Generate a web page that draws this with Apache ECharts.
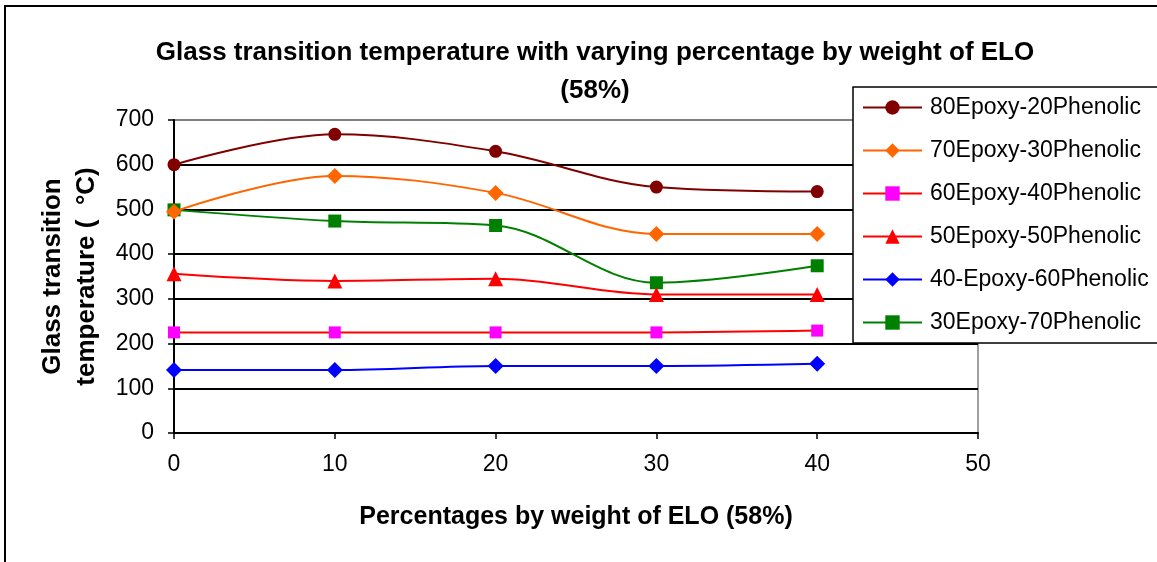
<!DOCTYPE html>
<html><head><meta charset="utf-8">
<script src="https://cdn.jsdelivr.net/npm/echarts@6/dist/echarts.min.js"></script>
<style>
html,body{margin:0;padding:0;background:#fff;overflow:hidden}
#frame{position:absolute;left:4px;top:5px;width:1300px;height:700px;border:2px solid #000;box-sizing:border-box}
#c{position:absolute;left:0;top:0;width:1157px;height:562px}
</style></head>
<body>
<div id="frame"></div>
<div id="c"></div>
<script>
const xValues = [0, 10, 20, 30, 40];
const seriesNames = ['80Epoxy-20Phenolic','70Epoxy-30Phenolic','60Epoxy-40Phenolic','50Epoxy-50Phenolic','40-Epoxy-60Phenolic','30Epoxy-70Phenolic'];
const s80E20P = [600, 668, 630, 550, 540];
const s70E30P = [495, 575, 537, 445, 445];
const s60E40P = [225, 225, 225, 225, 229];
const s50E50P = [356, 340, 345, 310, 310];
const s40E60P = [141, 141, 150, 150, 155];
const s30E70P = [499, 474, 464, 336, 374];
const yTicks = [0,100,200,300,400,500,600,700];

const vals = [s80E20P, s70E30P, s60E40P, s50E50P, s40E60P, s30E70P];
const lineColors = ['#800000','#ff6600','#ff0000','#ff0000','#0000ff','#008000'];
const markColors = ['#800000','#ff6600','#ff00ff','#ff0000','#0000ff','#008000'];
const symbols = ['circle','diamond','rect','triangle','diamond','rect'];
const symSizes = [13,16,12,15,16,13];

const chart = echarts.init(document.getElementById('c'), null, {renderer:'canvas'});
const FONT = '"Liberation Sans", Arial, sans-serif';
chart.setOption({
  animation:false,
  backgroundColor:'transparent',
  title:{
    text:'Glass transition temperature with varying percentage by weight of ELO\n(58%)',
    left:590, top:29, textAlign:'center',
    textStyle:{fontFamily:FONT,fontWeight:'bold',fontSize:26,color:'#000',lineHeight:38}
  },
  grid:{left:174,right:179,top:120,bottom:129,show:true,borderColor:'#808080',borderWidth:1.5,backgroundColor:'transparent'},
  legend:{
    orient:'vertical', left:853, top:87, width:340,
    padding:[9,40,9,9],
    backgroundColor:'#fff', borderColor:'#000', borderWidth:1.5,
    itemWidth:59, itemHeight:18, itemGap:20,
    textStyle:{fontFamily:FONT,fontSize:23,color:'#000',padding:[0,0,0,3]},
    data:seriesNames
  },
  xAxis:{
    type:'value', min:0, max:50, interval:10,
    name:'Percentages by weight of ELO (58%)', nameLocation:'middle', nameGap:72,
    nameTextStyle:{fontFamily:FONT,fontWeight:'bold',fontSize:25,color:'#000'},
    axisLine:{show:true,lineStyle:{color:'#000',width:2}},
    axisTick:{show:true,inside:false,length:6,lineStyle:{color:'#000',width:1.5}},
    axisLabel:{fontFamily:FONT,fontSize:23,color:'#000',margin:20},
    splitLine:{show:false}
  },
  yAxis:{
    type:'value', min:0, max:700, interval:100,
    name:'Glass transition\ntemperature (  \u00B0C)', nameLocation:'middle', nameGap:70, nameRotate:90,
    nameTextStyle:{fontFamily:FONT,fontWeight:'bold',fontSize:26,color:'#000',lineHeight:34},
    axisLine:{show:true,lineStyle:{color:'#000',width:2}},
    axisTick:{show:true,length:6,lineStyle:{color:'#000',width:1.5}},
    axisLabel:{fontFamily:FONT,fontSize:23,color:'#000',margin:20,
      formatter:function(v){return yTicks.indexOf(v)>=0?String(v):'';}},
    splitLine:{show:true,lineStyle:{color:['#000','#000','#000','#000','#000','#000','#000','#808080'],width:2}}
  },
  series: seriesNames.map((n,i)=>({
    name:n, type:'line', smooth:0.35,
    data: xValues.map((x,j)=>[x, vals[i][j]]),
    symbol:symbols[i], symbolSize:symSizes[i],
    lineStyle:{color:lineColors[i],width:2},
    itemStyle:{color:markColors[i]},
    z: 10-i
  }))
});
</script>
</body></html>
